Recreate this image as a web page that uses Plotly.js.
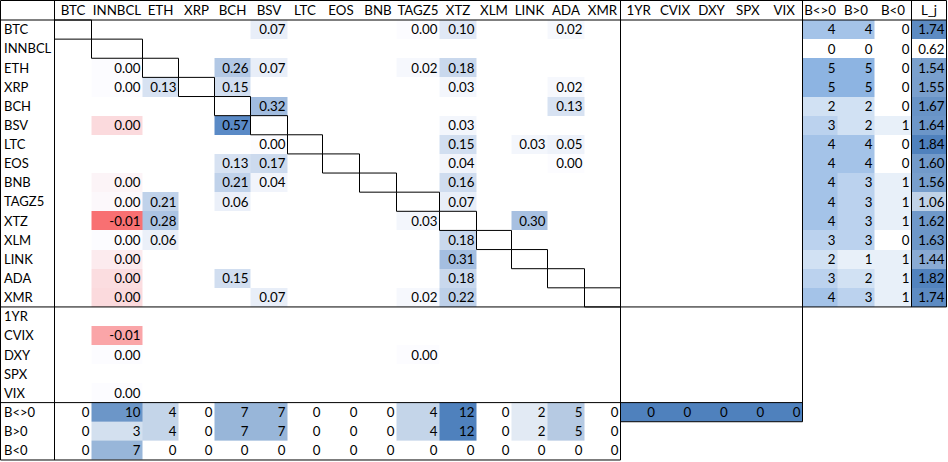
<!DOCTYPE html>
<html>
<head>
<meta charset="utf-8">
<script src="https://cdn.plot.ly/plotly-3.0.1.min.js"></script>
<style>html,body{margin:0;padding:0;background:#fff;}#chart{width:948px;height:462px;}</style>
</head>
<body>
<div id="chart"></div>
<script>
// ---------------- DATA ----------------
const coins = ['BTC','INNBCL','ETH','XRP','BCH','BSV','LTC','EOS','BNB','TAGZ5','XTZ','XLM','LINK','ADA','XMR'];
const macros = ['1YR','CVIX','DXY','SPX','VIX'];
const countNames = ['B&lt;&gt;0','B&gt;0','B&lt;0'];
const ljName = 'L_j';
const _ = null;
// coefficient rows (columns follow `coins`); tiny negatives shown as 0.00
const rowBTC    = [_,_,_,_,_,0.07,_,_,_,0.00,0.10,_,_,0.02,_];
const rowINNBCL = [_,_,_,_,_,_,_,_,_,_,_,_,_,_,_];
const rowETH    = [_,0.00,_,_,0.26,0.07,_,_,_,0.02,0.18,_,_,_,_];
const rowXRP    = [_,0.00,0.13,_,0.15,_,_,_,_,_,0.03,_,_,0.02,_];
const rowBCH    = [_,_,_,_,_,0.32,_,_,_,_,_,_,_,0.13,_];
const rowBSV    = [_,-0.0024,_,_,0.57,_,_,_,_,_,0.03,_,_,_,_];
const rowLTC    = [_,_,_,_,_,0.00,_,_,_,_,0.15,_,0.03,0.05,_];
const rowEOS    = [_,_,_,_,0.13,0.17,_,_,_,_,0.04,_,_,0.00,_];
const rowBNB    = [_,-0.0006,_,_,0.21,0.04,_,_,_,_,0.16,_,_,_,_];
const rowTAGZ5  = [_,-0.0003,0.21,_,0.06,_,_,_,_,_,0.07,_,_,_,_];
const rowXTZ    = [_,-0.0100,0.28,_,_,_,_,_,_,0.03,_,_,0.30,_,_];
const rowXLM    = [_,0.00,0.06,_,_,_,_,_,_,_,0.18,_,_,_,_];
const rowLINK   = [_,-0.0012,_,_,_,_,_,_,_,_,0.31,_,_,_,_];
const rowADA    = [_,-0.0022,_,_,0.15,_,_,_,_,_,0.18,_,_,_,_];
const rowXMR    = [_,-0.0024,_,_,_,0.07,_,_,_,0.02,0.22,_,_,_,_];
const row1YR    = [_,_,_,_,_,_,_,_,_,_,_,_,_,_,_];
const rowCVIX   = [_,-0.0062,_,_,_,_,_,_,_,_,_,_,_,_,_];
const rowDXY    = [_,0.00,_,_,_,_,_,_,_,0.00,_,_,_,_,_];
const rowSPX    = [_,_,_,_,_,_,_,_,_,_,_,_,_,_,_];
const rowVIX    = [_,0.00,_,_,_,_,_,_,_,_,_,_,_,_,_];
// per-coin counts and L_j (rows follow `coins`)
const rowBne0 = [4,0,5,5,2,3,4,4,4,4,4,3,2,3,4];
const rowBgt0 = [4,0,5,5,2,2,4,4,3,3,3,3,1,2,3];
const rowBlt0 = [0,0,0,0,0,1,0,0,1,1,1,0,1,1,1];
const Lj      = [1.74,0.62,1.54,1.55,1.67,1.64,1.84,1.60,1.56,1.06,1.62,1.63,1.44,1.82,1.74];
// per-column counts (columns follow `coins`)
const colBne0 = [0,10,4,0,7,7,0,0,0,4,12,0,2,5,0];
const colBgt0 = [0,3,4,0,7,7,0,0,0,4,12,0,2,5,0];
const colBlt0 = [0,7,0,0,0,0,0,0,0,0,0,0,0,0,0];
const macroBne0 = [0,0,0,0,0];

// ---------------- LAYOUT GEOMETRY ----------------
const labelW = 54;
const coinW = [37,51,36,36,36,37,35,37,37,43,37,35,36,37,36];
const macroW = [36.4,36.4,36.4,36.4,36.4];
const countW = [35,37,37];
const ljW = 35;
const headerH = 20, rowH = 19.13;
const FONT = 'Lato, "Open Sans", sans-serif';
const FS = 13.3;

const widths = [labelW].concat(coinW, macroW, countW, [ljW]);
const colEdges = [0.5];
widths.forEach(w => colEdges.push(colEdges[colEdges.length-1] + w));
const cCoin0 = 1, cMacro0 = 1 + coins.length, cCount0 = cMacro0 + macros.length, cLj = cCount0 + 3;
const nRows = coins.length + macros.length + 3;
const rowEdges = [];
for (let k = 0; k <= nRows; k++) rowEdges.push(headerH + k * rowH);

const mainRows = [rowBTC,rowINNBCL,rowETH,rowXRP,rowBCH,rowBSV,rowLTC,rowEOS,rowBNB,rowTAGZ5,rowXTZ,rowXLM,rowLINK,rowADA,rowXMR,row1YR,rowCVIX,rowDXY,rowSPX,rowVIX];
const rowLabels = coins.concat(macros, countNames);

function fmt2(v){ if (Math.abs(v) < 0.005) return '0.00'; return v.toFixed(2); }

const traces = [];
const zMin = -0.0105, zMax = 0.57;
traces.push({
  type:'heatmap', x: colEdges.slice(cCoin0, cCoin0 + coins.length + 1), y: rowEdges.slice(0, mainRows.length + 1),
  z: mainRows, zmin: zMin, zmax: zMax, showscale:false, hoverinfo:'skip',
  colorscale: [[0,'#F8696B'],[(-zMin)/(zMax-zMin),'#FCFCFF'],[1,'#5A8AC6']]
});
const rightCounts = coins.map((c,i) => [rowBne0[i], rowBgt0[i], rowBlt0[i]]);
traces.push({
  type:'heatmap', x: colEdges.slice(cCount0, cCount0 + 4), y: rowEdges.slice(0, coins.length + 1),
  z: rightCounts, zmin:0, zmax:5, showscale:false, hoverinfo:'skip',
  colorscale: [[0,'#FFFFFF'],[1,'#8DB4E2']]
});
traces.push({
  type:'heatmap', x: colEdges.slice(cLj, cLj + 2), y: rowEdges.slice(0, coins.length + 1),
  z: Lj.map(v => [v]), zmin: Math.min(...Lj), zmax: Math.max(...Lj), showscale:false, hoverinfo:'skip',
  colorscale: [[0,'#FFFFFF'],[1,'#4F81BD']]
});
const r0 = coins.length + macros.length;
traces.push({
  type:'heatmap', x: colEdges.slice(cCoin0, cCoin0 + coins.length + 1), y: rowEdges.slice(r0, r0 + 4),
  z: [colBne0, colBgt0, colBlt0], zmin:0, zmax:12, showscale:false, hoverinfo:'skip',
  colorscale: [[0,'#FFFFFF'],[1,'#4F81BD']]
});
traces.push({
  type:'heatmap', x: colEdges.slice(cMacro0, cMacro0 + macros.length + 1), y: rowEdges.slice(r0, r0 + 2),
  z: [macroBne0], zmin:0, zmax:1, showscale:false, hoverinfo:'skip',
  colorscale: [[0,'#4F81BD'],[1,'#4F81BD']]
});

const tx = [], ty = [], tt = [];
const pad = 2, dy = 1.5;
function addNum(col, row, s){ tx.push(colEdges[col+1] - pad); ty.push((rowEdges[row] + rowEdges[row+1]) / 2 + dy); tt.push(s); }
mainRows.forEach((r, i) => r.forEach((v, j) => { if (v !== null) addNum(cCoin0 + j, i, fmt2(v)); }));
coins.forEach((c, i) => {
  addNum(cCount0, i, String(rowBne0[i]));
  addNum(cCount0+1, i, String(rowBgt0[i]));
  addNum(cCount0+2, i, String(rowBlt0[i]));
  addNum(cLj, i, Lj[i].toFixed(2));
});
[colBne0, colBgt0, colBlt0].forEach((r, k) => r.forEach((v, j) => addNum(cCoin0 + j, r0 + k, String(v))));
macroBne0.forEach((v, j) => addNum(cMacro0 + j, r0, String(v)));
traces.push({type:'scatter', mode:'text', x:tx, y:ty, text:tt, textposition:'middle left',
  textfont:{family:FONT, size:FS, color:'#000'}, hoverinfo:'skip', showlegend:false, cliponaxis:false});

traces.push({type:'scatter', mode:'text', x: rowLabels.map(() => 4),
  y: rowLabels.map((l, i) => (rowEdges[i] + rowEdges[i+1]) / 2 + dy), text: rowLabels,
  textposition:'middle right', textfont:{family:FONT, size:13, color:'#000'}, hoverinfo:'skip', showlegend:false, cliponaxis:false});

const headers = coins.concat(macros, countNames, [ljName]);
traces.push({type:'scatter', mode:'text', x: headers.map((h, i) => (colEdges[i+1] + colEdges[i+2]) / 2),
  y: headers.map(() => headerH / 2 + 1.5), text: headers, textposition:'middle center',
  textfont:{family:FONT, size:FS, color:'#000'}, hoverinfo:'skip', showlegend:false, cliponaxis:false});

const shapes = [];
function ln(x0, y0, x1, y1){ shapes.push({type:'line', xref:'x', yref:'y', x0, y0, x1, y1, line:{color:'#000', width:1}}); }
const xL = colEdges[0], xR = colEdges[colEdges.length-1];
const yTop = 0.5, yBot = rowEdges[nRows];
const yCoinEnd = rowEdges[coins.length], yMacroEnd = rowEdges[r0], yBne0End = rowEdges[r0+1];
ln(xL, yTop, xR, yTop);
ln(xL, yTop, xL, yBot);
ln(xL, yBot, colEdges[cMacro0], yBot);
ln(xR, yTop, xR, yCoinEnd);
ln(xL, headerH, xR, headerH);
ln(colEdges[1], yTop, colEdges[1], yBot);
ln(colEdges[cMacro0], yTop, colEdges[cMacro0], yBot);
ln(colEdges[cCount0], yTop, colEdges[cCount0], yBne0End);
ln(colEdges[cLj], yTop, colEdges[cLj], yCoinEnd);
ln(xL, yCoinEnd, xR, yCoinEnd);
ln(xL, yMacroEnd, colEdges[cCount0], yMacroEnd);
ln(colEdges[cMacro0], yBne0End, colEdges[cCount0], yBne0End);
coins.forEach((c, i) => {
  shapes.push({type:'rect', xref:'x', yref:'y', x0: colEdges[cCoin0+i], x1: colEdges[cCoin0+i+1],
    y0: rowEdges[i], y1: rowEdges[i+1], line:{color:'#000', width:1}, fillcolor:'rgba(0,0,0,0)'});
});

const layout = {
  width:948, height:462, margin:{l:0,r:0,t:0,b:0}, paper_bgcolor:'#fff', plot_bgcolor:'#fff',
  showlegend:false,
  xaxis:{range:[0,948], visible:false, fixedrange:true},
  yaxis:{range:[462,0], visible:false, fixedrange:true},
  shapes: shapes
};
Plotly.newPlot('chart', traces, layout, {staticPlot:true, displayModeBar:false});
</script>
</body>
</html>
